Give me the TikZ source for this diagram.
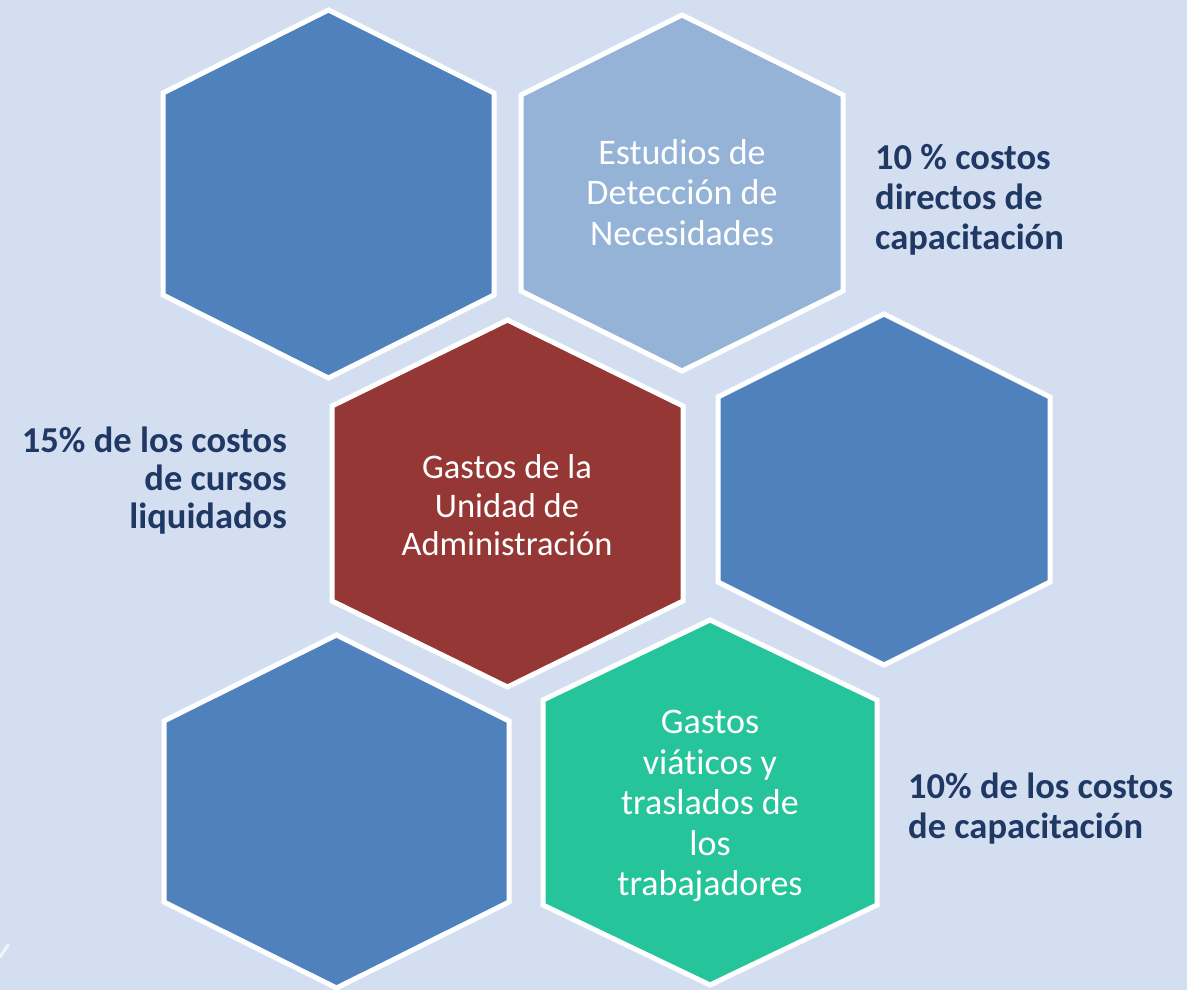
\documentclass[tikz,border=0pt]{standalone}
\usepackage{fontspec}
\setmainfont{Carlito}[Ligatures=NoCommon]
\definecolor{bgc}{HTML}{D4DEF1}
\definecolor{hexblue}{HTML}{4F81BD}
\definecolor{hexlight}{HTML}{95B3D7}
\definecolor{hexred}{HTML}{953735}
\definecolor{hexgreen}{HTML}{26C49A}
\definecolor{navy}{HTML}{1F3864}
\newcommand\hexagono[6]{%
  \filldraw[hexline, fill=#6] ({#1},{#2-#4}) -- ({#1+#3},{#2-#4+#5}) -- ({#1+#3},{#2+#4-#5}) -- ({#1},{#2+#4}) -- ({#1-#3},{#2+#4-#5}) -- ({#1-#3},{#2-#4+#5}) -- cycle;}
\tikzset{
  hexline/.style={draw=white, line width=5pt, line join=miter},
  hextext/.style={text=white, align=center, inner sep=0pt, font=\fontsize{36}{40.5}\selectfont},
  sidelabel/.style={text=navy, inner sep=0pt, font=\fontsize{36.5}{40}\selectfont\bfseries}
}
\begin{document}
\begin{tikzpicture}[x=1pt,y=-1pt]
\fill[bgc] (0,0) rectangle (1187,990);
\useasboundingbox (0,0) rectangle (1187,990);
% hexagons: cx, cy, half-width, half-height, shoulder, colour
\hexagono{328.5}{194}{165.5}{184}{83}{hexblue}
\hexagono{682}{193}{161}{178}{80}{hexlight}
\hexagono{507.5}{503.5}{175.5}{183.5}{86}{hexred}
\hexagono{884}{489.5}{166}{175.5}{83}{hexblue}
\hexagono{336.5}{811.5}{172.5}{176.5}{86}{hexblue}
\hexagono{710}{802.5}{167}{182.5}{80}{hexgreen}
% texts inside hexagons
\node[hextext] (estudios) at (682,192.5) {Estudios de\\Detección de\\Necesidades};
\node[hextext, font=\fontsize{34.5}{38.5}\selectfont] (gastosadm) at (507,505.5) {Gastos de la\\Unidad de\\Administración};
\node[hextext] (viaticos) at (710,806) {Gastos\\viáticos y\\traslados de\\los\\trabajadores};
% side labels
\node[sidelabel, anchor=west, align=left] (lab1) at (875,200) {10 \% costos\\directos de\\capacitación};
\node[sidelabel, anchor=east, align=right, font=\fontsize{36.5}{38}\selectfont\bfseries] (lab2) at (287,481) {15\% de los costos\\de cursos\\liquidados};
\node[sidelabel, anchor=west, align=left] (lab3) at (908,808.5) {10\% de los costos\\de capacitación};
% small mark at bottom left
\draw[white, opacity=0.7, line width=3pt, line cap=round] (0,957) -- (8,945);
\end{tikzpicture}
\end{document}
